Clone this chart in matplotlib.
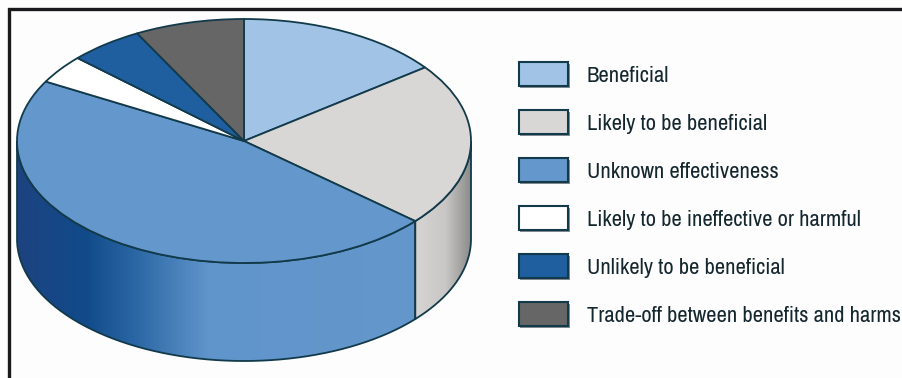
import numpy as np
import matplotlib
matplotlib.use('Agg')
import matplotlib.pyplot as plt
from matplotlib.colors import LinearSegmentedColormap
from matplotlib.patches import PathPatch, Rectangle, Wedge
from matplotlib.path import Path
from matplotlib.transforms import Affine2D

categories = ['Beneficial', 'Likely to be beneficial', 'Unknown effectiveness',
              'Likely to be ineffective or harmful', 'Unlikely to be beneficial',
              'Trade-off between benefits and harms']
shares = [14.7, 21.7, 46.7, 3.8, 5.3, 7.8]
colors = ['#a0c3e6', '#d8d7d6', '#6497cc', '#ffffff', '#1f5f9f', '#666666']

# shading along the rim of the two slices that face the viewer
rim_shades = {
    'Unknown effectiveness': [(0.0, '#1d4380'), (0.17, '#114a8a'), (0.30, '#2c68a5'),
                              (0.48, '#6095cb'), (1.0, '#6497cc')],
    'Likely to be beneficial': [(0.0, '#d6d5d4'), (0.55, '#c8c7c5'), (1.0, '#8b8b89')],
}

BG = '#fdfdfe'
EDGE = '#123a4a'
CX, CY, RX, RY, DEPTH = 244, 141, 227, 122, 98

plt.rcParams['font.family'] = ['Archivo Narrow', 'Lato', 'DejaVu Sans']

fig = plt.figure(figsize=(9.02, 3.78), dpi=100, facecolor=BG)
ax = fig.add_axes([0, 0, 1, 1])
ax.set_xlim(0, 902)
ax.set_ylim(378, 0)
ax.set_axis_off()

# slice limits in degrees, going clockwise from twelve o'clock
ends = 90 - np.cumsum(shares) * 3.6
starts = np.r_[90, ends[:-1]]


def rim_path(a, b):
    # a, b are in degrees, a > b, and the side wall only shows below the centre
    t = np.radians(np.linspace(a, b, 120))
    x = CX + RX * np.cos(t)
    y = CY - RY * np.sin(t)
    return Path(np.r_[np.c_[x, y], np.c_[x[::-1], y[::-1] + DEPTH], [[x[0], y[0]]]])


for name, a, b, col in zip(categories, starts, ends, colors):
    if name not in rim_shades:
        continue
    # wrap into the 180..360 range, clamped to the visible front half
    lo = max(b % 360, 180)
    hi = a % 360 if a % 360 > lo else 360
    hi = min(hi, 360)
    path = rim_path(hi, lo)
    xs = path.vertices[:, 0]
    cmap = LinearSegmentedColormap.from_list(name, rim_shades[name], N=256)
    grad = np.linspace(0, 1, 256)[None, :]
    img = ax.imshow(grad, cmap=cmap, aspect='auto', zorder=1,
                    extent=(xs.min(), xs.max(), CY + RY + DEPTH + 2, CY - RY))
    patch = PathPatch(path, facecolor='none', edgecolor=EDGE, lw=1.3, zorder=2)
    ax.add_patch(patch)
    img.set_clip_path(patch)

# imshow resets the limits
ax.set_xlim(0, 902)
ax.set_ylim(378, 0)

# top face: unit wedges squashed into the ellipse
squash = Affine2D().scale(RX, -RY).translate(CX, CY) + ax.transData
for a, b, col in zip(starts, ends, colors):
    ax.add_patch(Wedge((0, 0), 1, b, a, facecolor=col, edgecolor=EDGE, lw=1.3,
                       transform=squash, zorder=3, joinstyle='round'))

# frame runs along the top and left only
ax.plot([8.5, 8.5, 902], [378, 8.5, 8.5], color='#1a1a1c', lw=2.4, zorder=5,
        solid_joinstyle='miter')

# legend
for i, (name, col) in enumerate(zip(categories, colors)):
    y = 62 + 48 * i
    ax.add_patch(Rectangle((519.5, y + 1.5), 50, 24, facecolor='#20303a', edgecolor='none',
                           alpha=0.55, zorder=3))
    ax.add_patch(Rectangle((518.5, y), 49, 24, facecolor=col, edgecolor=EDGE, lw=1.5, zorder=4))
    ax.text(587, y + 14.5, name, fontsize=16.2, fontweight='medium', color='#14262e',
            va='center', ha='left', zorder=4)

fig.savefig('out.png', dpi=100, facecolor=BG)
